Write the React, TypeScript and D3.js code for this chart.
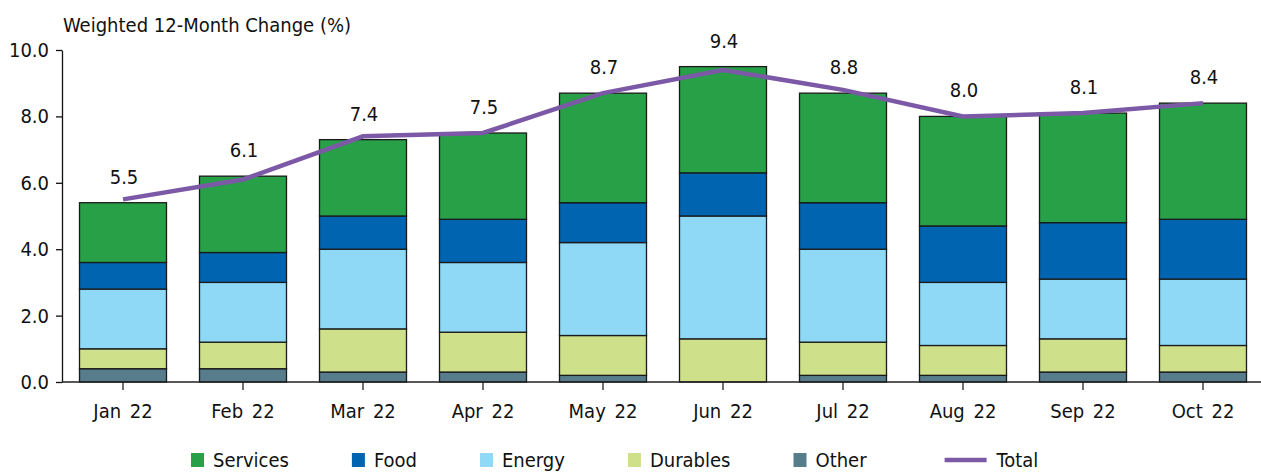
import React, { useEffect, useRef } from 'react';
import * as d3 from 'd3';

const categories = ['Jan 22', 'Feb 22', 'Mar 22', 'Apr 22', 'May 22', 'Jun 22', 'Jul 22', 'Aug 22', 'Sep 22', 'Oct 22'];
const other = [0.4, 0.4, 0.3, 0.3, 0.2, 0.0, 0.2, 0.2, 0.3, 0.3];
const durables = [0.6, 0.8, 1.3, 1.2, 1.2, 1.3, 1.0, 0.9, 1.0, 0.8];
const energy = [1.8, 1.8, 2.4, 2.1, 2.8, 3.7, 2.8, 1.9, 1.8, 2.0];
const food = [0.8, 0.9, 1.0, 1.3, 1.2, 1.3, 1.4, 1.7, 1.7, 1.8];
const services = [1.8, 2.3, 2.3, 2.6, 3.3, 3.2, 3.3, 3.3, 3.3, 3.5];
const total = [5.5, 6.1, 7.4, 7.5, 8.7, 9.4, 8.8, 8.0, 8.1, 8.4];
const yTicks = [0, 2, 4, 6, 8, 10];

const seriesNames = ['Other', 'Durables', 'Energy', 'Food', 'Services'];
const seriesValues = [other, durables, energy, food, services];
const colors: Record<string, string> = {
  Services: '#27a048',
  Food: '#0064b0',
  Energy: '#8fd9f6',
  Durables: '#cfe08a',
  Other: '#577c8b',
  Total: '#7b59a6',
};
const legendOrder = ['Services', 'Food', 'Energy', 'Durables', 'Other', 'Total'];

const W = 1261;
const H = 472;
const FONT = '"DejaVu Sans Condensed", "DejaVu Sans", sans-serif';
const FS = 20;

export default function App() {
  const ref = useRef<SVGSVGElement | null>(null);

  useEffect(() => {
    const svg = d3.select(ref.current);
    svg.selectAll('*').remove();

    const x = d3.scaleBand<string>().domain(categories).range([63, 1263]).paddingInner(0.275).paddingOuter(0.1375);
    const y = d3.scaleLinear().domain([0, 10]).range([382, 50]);

    const rows = categories.map((c, i) => {
      const r: any = { cat: c };
      seriesNames.forEach((s, k) => (r[s] = seriesValues[k][i]));
      return r;
    });
    const stacked = d3.stack<any>().keys(seriesNames)(rows);

    // bars
    const g = svg.append('g');
    stacked.forEach((layer) => {
      g.append('g')
        .selectAll('rect')
        .data(layer)
        .join('rect')
        .filter((d) => d[1] - d[0] > 0)
        .attr('x', (d: any) => x(d.data.cat)!)
        .attr('width', x.bandwidth())
        .attr('y', (d: any) => y(d[1]))
        .attr('height', (d: any) => y(d[0]) - y(d[1]))
        .attr('fill', colors[layer.key])
        .attr('stroke', '#1a1a1a')
        .attr('stroke-width', 1.3);
    });

    // y axis
    const yAxis = d3.axisLeft(y).tickValues(yTicks).tickFormat(d3.format('.1f')).tickSize(6).tickSizeOuter(0).tickPadding(7);
    const ya = svg.append('g').attr('transform', 'translate(62,0)').call(yAxis as any);
    ya.selectAll('text').attr('font-family', FONT).attr('font-size', FS).attr('fill', '#111');
    ya.selectAll('line').attr('stroke', '#111').attr('stroke-width', 1.3);
    ya.select('.domain').attr('stroke', '#111').attr('stroke-width', 1.3);

    // x axis
    svg.append('line').attr('x1', 62).attr('x2', W).attr('y1', y(0)).attr('y2', y(0)).attr('stroke', '#222').attr('stroke-width', 1.5);
    const xg = svg.append('g');
    categories.forEach((c) => {
      const cx = x(c)! + x.bandwidth() / 2;
      xg.append('line').attr('x1', cx).attr('x2', cx).attr('y1', y(0)).attr('y2', y(0) + 8).attr('stroke', '#222').attr('stroke-width', 1.3);
      xg.append('text')
        .attr('x', cx)
        .attr('y', 418)
        .attr('text-anchor', 'middle')
        .attr('font-family', FONT)
        .attr('font-size', FS)
        .attr('word-spacing', 3)
        .attr('fill', '#111')
        .text(c);
    });

    // total line
    const line = d3
      .line<number>()
      .x((_, i) => x(categories[i])! + x.bandwidth() / 2)
      .y((d) => y(d));
    svg.append('path').datum(total).attr('d', line).attr('fill', 'none').attr('stroke', colors.Total).attr('stroke-width', 4.5).attr('stroke-linejoin', 'miter');

    // total labels
    const lastLayer = stacked[stacked.length - 1];
    categories.forEach((c, i) => {
      const top = lastLayer[i][1];
      svg
        .append('text')
        .attr('x', x(c)! + x.bandwidth() / 2 + 1)
        .attr('y', y(top) - 19)
        .attr('text-anchor', 'middle')
        .attr('font-family', FONT)
        .attr('font-size', FS)
        .attr('fill', '#111')
        .text(d3.format('.1f')(total[i]));
    });

    // y axis title
    svg
      .append('text')
      .attr('x', 63)
      .attr('y', 32)
      .attr('font-family', FONT)
      .attr('font-size', FS)
      .attr('fill', '#111')
      .text('Weighted 12-Month Change (%)');

    // legend
    const lg = svg.append('g');
    let lx = 191;
    const ly = 460;
    legendOrder.forEach((name) => {
      if (name === 'Total') {
        lx += 15;
        lg.append('line').attr('x1', lx).attr('x2', lx + 42).attr('y1', ly).attr('y2', ly).attr('stroke', colors.Total).attr('stroke-width', 4.5);
        lx += 52;
      } else {
        lg.append('rect').attr('x', lx).attr('y', ly - 7).attr('width', 13).attr('height', 14).attr('fill', colors[name]);
        lx += 22;
      }
      const t = lg
        .append('text')
        .attr('x', lx)
        .attr('y', ly + 7)
        .attr('font-family', FONT)
        .attr('font-size', FS)
        .attr('fill', '#111')
        .text(name);
      const w = (t.node() as SVGTextElement).getComputedTextLength();
      lx += w + 63;
    });
  }, []);

  return <svg ref={ref} width={W} height={H} style={{ position: 'absolute', left: 0, top: 0, background: '#fff' }} />;
}
